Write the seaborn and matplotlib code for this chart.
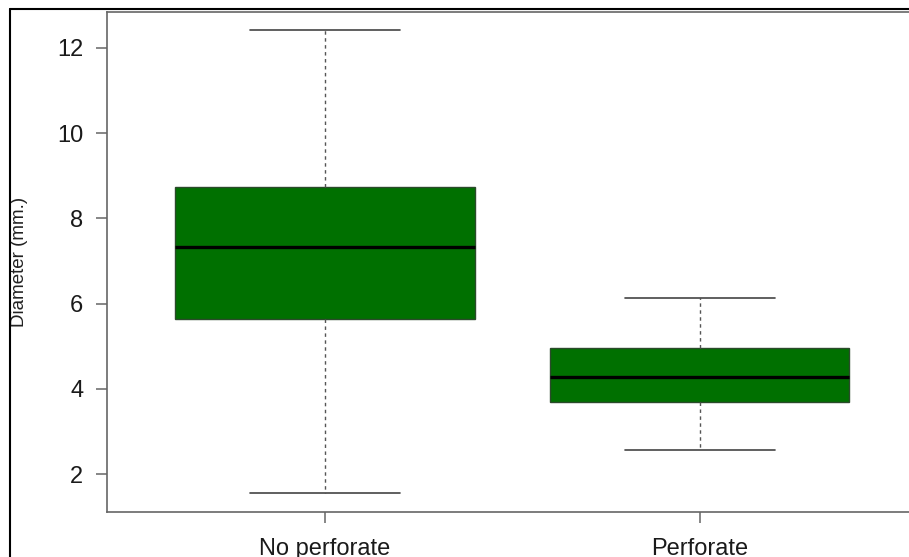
import numpy as np
import pandas as pd
import matplotlib
matplotlib.use("Agg")
import matplotlib.pyplot as plt
import seaborn as sns
from matplotlib.lines import Line2D

# Five-number summaries (min, Q1, median, Q3, max)
categories = ["No perforate", "Perforate"]
no_perforate = [1.55, 5.64, 7.33, 8.74, 12.42]
perforate = [2.56, 3.69, 4.28, 4.96, 6.13]
y_ticks = [2, 4, 6, 8, 10, 12]

df = pd.DataFrame({
    "group": [categories[0]] * len(no_perforate) + [categories[1]] * len(perforate),
    "diameter": no_perforate + perforate,
})

sns.set_theme(style="white")
plt.rcParams["font.family"] = ["Liberation Sans", "DejaVu Sans"]

fig = plt.figure(figsize=(9.09, 5.57), dpi=100)
ax = fig.add_axes([107 / 909, 1 - 512 / 557, (917 - 107) / 909, (512 - 12) / 557])

sns.boxplot(
    data=df, x="group", y="diameter", order=categories, ax=ax,
    whis=np.inf, width=0.8, color="#007000", saturation=1,
    linewidth=1.0, linecolor="#2b4a2b",
    boxprops=dict(facecolor="#007000", edgecolor="#2b4a2b", linewidth=1.0),
    medianprops=dict(color="black", linewidth=2.4),
    whiskerprops=dict(color="#555555", linestyle=(0, (2.5, 2.5)), linewidth=1.0),
    capprops=dict(color="#444444", linewidth=1.2),
    showfliers=False,
)

ax.set_xlim(-0.58, 1.58)
ax.set_ylim(1.108, 12.845)
ax.set_yticks(y_ticks)
ax.set_yticklabels([str(t) for t in y_ticks])
ax.set_xlabel("")
ax.set_ylabel("Diameter (mm.)", fontsize=13.5, color="#222222", labelpad=0)
ax.yaxis.label.set_verticalalignment("center")
ax.yaxis.set_label_coords(-(107 - 20) / 810, 0.5)

for side in ["left", "top", "bottom", "right"]:
    ax.spines[side].set_visible(True)
    ax.spines[side].set_color("#666666")
    ax.spines[side].set_linewidth(1.2)

ax.tick_params(axis="y", which="both", left=True, length=8, width=1.1, color="#666666",
               labelsize=17, labelcolor="#1a1a1a", pad=9)
ax.tick_params(axis="x", which="both", bottom=True, length=8, width=1.1, color="#666666",
               labelsize=17, labelcolor="#1a1a1a", pad=11)

# outer frame lines (left and top) of the original image
fig.add_artist(Line2D([9.5 / 909, 9.5 / 909], [0, 1 - 8.5 / 557], transform=fig.transFigure,
                      color="black", linewidth=1.5))
fig.add_artist(Line2D([9.5 / 909, 1], [1 - 8.5 / 557, 1 - 8.5 / 557], transform=fig.transFigure,
                      color="black", linewidth=1.5))

fig.savefig("out.png", dpi=100)
